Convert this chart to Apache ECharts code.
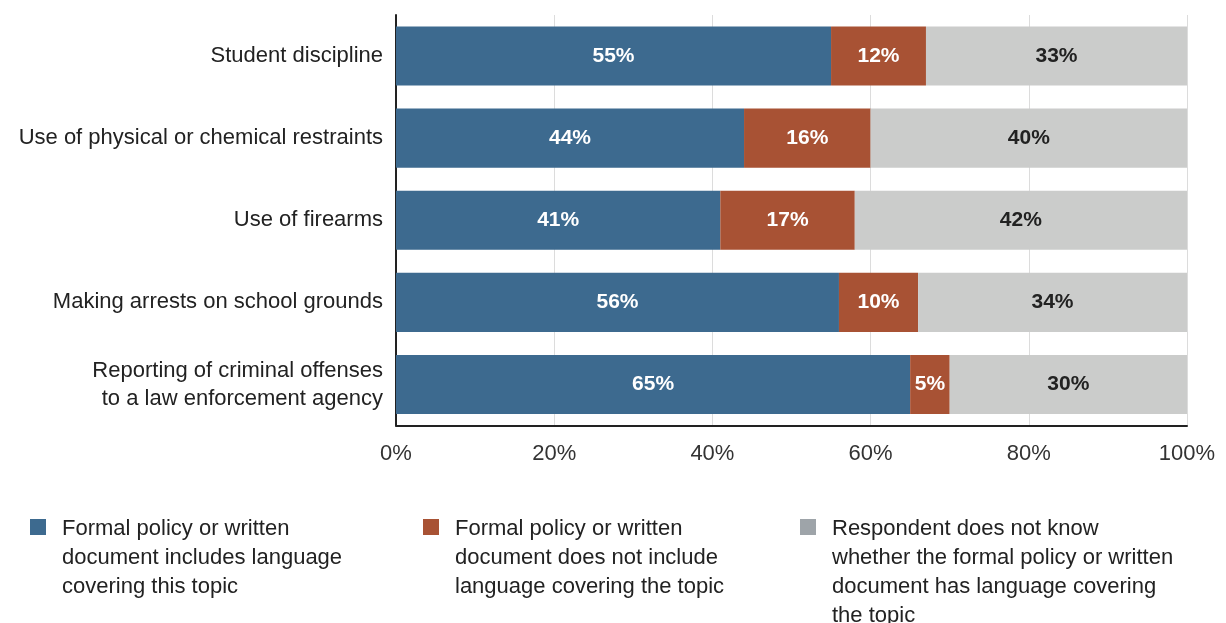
<!DOCTYPE html>
<html>
<head>
<meta charset="utf-8">
<script src="https://cdn.jsdelivr.net/npm/echarts@6/dist/echarts.min.js"></script>
<style>html,body{margin:0;padding:0;background:#fff;}#c{width:1226px;height:623px;}</style>
</head>
<body>
<div id="c"></div>
<script>
const categories = [
  'Student discipline',
  'Use of physical or chemical restraints',
  'Use of firearms',
  'Making arrests on school grounds',
  'Reporting of criminal offenses\nto a law enforcement agency'
];
const seriesNames = [
  'Formal policy or written\ndocument includes language\ncovering this topic',
  'Formal policy or written\ndocument does not include\nlanguage covering the topic',
  'Respondent does not know\nwhether the formal policy or written\ndocument has language covering\nthe topic'
];
const includes = [55, 44, 41, 56, 65];
const notInclude = [12, 16, 17, 10, 5];
const dontKnow = [33, 40, 42, 34, 30];
const xTicks = [0, 20, 40, 60, 80, 100];

const colors = ['#3d6a8f', '#a85234', '#cbcccb'];
const legendColors = ['#3d6a8f', '#a85234', '#9ea4a9'];
const FONT = '"Liberation Sans", Arial, sans-serif';

const chart = echarts.init(document.getElementById('c'), null, {renderer: 'canvas'});

function mkSeries(i, data, labelColor) {
  return {
    name: seriesNames[i],
    type: 'bar',
    stack: 'total',
    data: data,
    barWidth: '72%',
    itemStyle: {color: colors[i]},
    label: {
      show: true,
      position: 'inside',
      formatter: '{c}%',
      color: labelColor,
      fontFamily: FONT,
      fontWeight: 'bold',
      fontSize: 21
    },
    emphasis: {disabled: true}
  };
}

const legendX = [30, 423, 800];
const graphics = [];
seriesNames.forEach((n, i) => {
  graphics.push({
    type: 'rect', left: legendX[i], top: 519,
    shape: {width: 16, height: 16},
    style: {fill: legendColors[i]}
  });
  graphics.push({
    type: 'text', left: legendX[i] + 32, top: 514,
    style: {text: n, font: '22px ' + FONT, fill: '#222', lineHeight: 29}
  });
});

chart.setOption({
  animation: false,
  grid: {left: 396, right: 39, top: 15, bottom: 197.5, containLabel: false},
  xAxis: {
    type: 'value', min: 0, max: 100, interval: 20,
    axisLine: {show: true, lineStyle: {color: '#222', width: 2}},
    axisTick: {show: false},
    splitLine: {show: true, lineStyle: {color: '#dcdcdc', width: 1}},
    axisLabel: {formatter: v => xTicks.includes(v) ? v + '%' : '', color: '#333', fontSize: 22, fontFamily: FONT, margin: 17}
  },
  yAxis: {
    type: 'category', data: categories, inverse: true,
    axisLine: {show: true, lineStyle: {color: '#222', width: 2}},
    axisTick: {show: false},
    axisLabel: {color: '#222', fontSize: 22, fontFamily: FONT, margin: 13, lineHeight: 28, align: 'right', padding: [5, 0, 0, 0]}
  },
  series: [
    mkSeries(0, includes, '#ffffff'),
    mkSeries(1, notInclude, '#ffffff'),
    mkSeries(2, dontKnow, '#222222')
  ],
  graphic: graphics
});
</script>
</body>
</html>
